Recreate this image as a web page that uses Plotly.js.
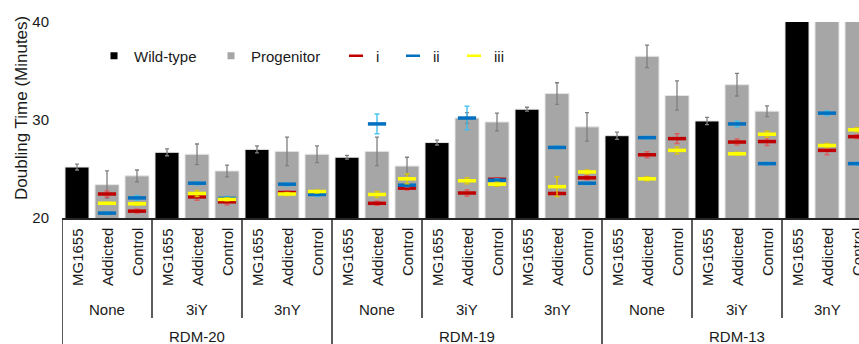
<!DOCTYPE html>
<html>
<head>
<meta charset="utf-8">
<script src="https://cdn.plot.ly/plotly-3.0.1.min.js"></script>
<style>
  html, body { margin: 0; padding: 0; background: #ffffff; }
  #chart { width: 859px; height: 344px; }
</style>
</head>
<body>
<div id="chart"></div>
<script>
// ---- Data (category order: RDM group > treatment > strain) ----
const rdmGroups = ['RDM-20', 'RDM-19', 'RDM-13'];
const treatments = ['None', '3iY', '3nY'];
const strains = ['MG1655', 'Addicted', 'Control'];

// Wild-type bars (MG1655 columns only)
const wildType = [25.2, null, null, 26.7, null, null, 27.0, null, null,
                  26.2, null, null, 27.7, null, null, 31.1, null, null,
                  28.4, null, null, 29.9, null, null, 42.0, null, null];
const wildTypeErr = [0.3, null, null, 0.35, null, null, 0.35, null, null,
                     0.2, null, null, 0.25, null, null, 0.2, null, null,
                     0.37, null, null, 0.37, null, null, null, null, null];

// Progenitor bars (Addicted / Control columns)
const progenitor = [null, 23.4, 24.3, null, 26.5, 24.8, null, 26.8, 26.5,
                    null, 26.8, 25.3, null, 30.2, 29.8, null, 32.7, 29.3,
                    null, 36.5, 32.5, null, 33.6, 30.9, null, 42.0, 42.0];
const progenitorErr = [null, 1.4, 0.6, null, 1.05, 0.6, null, 1.45, 0.85,
                       null, 1.45, 0.9, null, 0.55, 0.9, null, 1.1, 1.45,
                       null, 1.15, 1.5, null, 1.15, 0.55, null, null, null];

// Isolate series i, ii, iii
const seriesI = [null, 22.45, 20.7, null, 22.15, 21.65, null, 22.6, null,
                 null, 21.5, 23.05, null, 22.55, 23.95, null, 22.5, 24.1,
                 null, 26.45, 28.1, null, 27.75, 27.8, null, 26.9, 28.3];
const seriesIErr = [null, 0.3, 0.2, null, 0.35, 0.3, null, 0.15, null,
                    null, 0.2, 0.2, null, 0.3, 0.15, null, 0.15, 0.2,
                    null, 0.3, 0.5, null, 0.3, 0.4, null, 0.45, 0.2];
const seriesII = [null, 20.5, 22.05, null, 23.55, 22.0, null, 23.45, 22.4,
                  null, 29.6, 23.35, null, 30.2, 23.85, null, 27.2, 23.55,
                  null, 28.2, null, null, 29.6, 25.55, null, 30.7, 25.55];
const seriesIIErr = [null, 0.15, 0.25, null, 0.15, 0.2, null, 0.15, 0.2,
                     null, 1.0, 0.15, null, 1.2, 0.15, null, 0.15, 0.15,
                     null, 0.15, null, null, 0.3, 0.15, null, 0.25, 0.15];
const seriesIII = [null, 21.5, 21.45, null, 22.5, 21.9, null, 22.45, 22.7,
                   null, 22.4, 24.0, null, 23.8, 23.45, null, 23.2, 24.7,
                   null, 24.0, 26.9, null, 26.55, 28.55, null, 27.4, 29.0];
const seriesIIIErr = [null, 0.1, 0.15, null, 0.3, 0.15, null, 0.15, 0.15,
                      null, 0.3, 0.5, null, 0.3, 0.2, null, 1.0, 0.2,
                      null, 0.2, 0.35, null, 0.15, 0.3, null, 0.2, 0.2];

const yTicks = [20, 30, 40];
const yTitle = 'Doubling Time (Minutes)';
const legendNames = ['Wild-type', 'Progenitor', 'i', 'ii', 'iii'];

// ---- Build category positions ----
const xPos = [];
const strainLabel = [];
rdmGroups.forEach((r, ri) => treatments.forEach((t, ti) => strains.forEach((s, si) => {
  xPos.push(ri * 9 + ti * 3 + si);
  strainLabel.push(s);
})));

const FONT = 'Liberation Sans, Arial, sans-serif';
const TXT = '#1a1a1a';

const barLine = { color: '#e6e6e6', width: 1 };
const traces = [
  {
    type: 'bar', x: xPos, y: wildType, name: legendNames[0], showlegend: false,
    marker: { color: '#000000', line: barLine },
    error_y: { type: 'data', array: wildTypeErr, color: '#7f7f7f', thickness: 1.3, width: 2 }
  },
  {
    type: 'bar', x: xPos, y: progenitor, name: legendNames[1], showlegend: false,
    marker: { color: '#a6a6a6', line: barLine },
    error_y: { type: 'data', array: progenitorErr, color: '#7f7f7f', thickness: 1.3, width: 2 }
  }
];

const dashSeries = [
  { y: seriesI, err: seriesIErr, color: '#c00000', ecolor: 'rgba(230,80,80,0.85)' },
  { y: seriesII, err: seriesIIErr, color: '#0070c0', ecolor: 'rgba(60,190,240,0.9)' },
  { y: seriesIII, err: seriesIIIErr, color: '#ffff00', ecolor: 'rgba(225,200,0,0.9)' }
];
dashSeries.forEach((d, k) => {
  traces.push({
    type: 'scatter', mode: 'markers', x: xPos, y: d.y, name: legendNames[k + 2], showlegend: false,
    marker: { symbol: 'line-ew', size: 13, color: d.color, line: { color: d.color, width: 3.5 } },
    error_y: { type: 'data', array: d.err, color: d.ecolor, thickness: 1.5, width: 2.5 },
    cliponaxis: true
  });
});

// Legend-only entries (one legend each so spacing can match)
const legendSwatches = [
  { symbol: 'square', size: 7, color: '#000000', lw: 0 },
  { symbol: 'square', size: 7, color: '#a6a6a6', lw: 0 },
  { symbol: 'line-ew', size: 10, color: '#c00000', lw: 2.5 },
  { symbol: 'line-ew', size: 10, color: '#0070c0', lw: 2.5 },
  { symbol: 'line-ew', size: 10, color: '#ffff00', lw: 2.5 }
];
const legendIds = ['legend', 'legend2', 'legend3', 'legend4', 'legend5'];
const legendX = [94, 211, 336, 393, 454];
legendSwatches.forEach((s, k) => {
  traces.push({
    type: 'scatter', mode: 'markers', x: [null], y: [null], name: legendNames[k],
    legend: legendIds[k], showlegend: true,
    marker: { symbol: s.symbol, size: s.size, color: s.color, line: { color: s.color, width: s.lw } }
  });
});

// ---- Axis labels (3-level category axis) ----
const H = 344, T = 22, B = 126, L = 62, PW = 859 - L, PH = H - T - B;
const py = (pix) => (H - B - pix) / PH;  // pixel row -> paper y
const px = (pix) => (pix - L) / PW;      // pixel column -> paper x

const annotations = [];
xPos.forEach((x, i) => {
  annotations.push({
    x: x, xref: 'x', y: py(226), yref: 'paper', text: strainLabel[i], textangle: -90,
    showarrow: false, xanchor: 'center', yanchor: 'top', font: { family: FONT, size: 15, color: TXT }
  });
});
rdmGroups.forEach((r, ri) => treatments.forEach((t, ti) => {
  annotations.push({
    x: ri * 9 + ti * 3 + 1, xref: 'x', y: py(309.5), yref: 'paper', text: t,
    showarrow: false, xanchor: 'center', yanchor: 'middle', font: { family: FONT, size: 15, color: TXT }
  });
}));
rdmGroups.forEach((r, ri) => {
  annotations.push({
    x: ri * 9 + 4, xref: 'x', y: py(336.5), yref: 'paper', text: r,
    showarrow: false, xanchor: 'center', yanchor: 'middle', font: { family: FONT, size: 15, color: TXT }
  });
});
annotations.push({
  x: px(21.5), xref: 'paper', y: py(108.5), yref: 'paper', text: yTitle, textangle: -90,
  showarrow: false, xanchor: 'center', yanchor: 'middle', font: { family: FONT, size: 17, color: TXT }
});

const shapes = [];
for (let g = 0; g < rdmGroups.length * treatments.length; g++) {
  const isMajor = g % treatments.length === 0;
  shapes.push({
    type: 'line', xref: 'x', yref: 'paper', x0: g * 3 - 0.5, x1: g * 3 - 0.5,
    y0: 0, y1: isMajor ? py(H + 2) : py(318),
    line: { color: '#262626', width: 1.5 }
  });
}

const layout = {
  width: 859, height: 344,
  margin: { l: L, r: 0, t: T, b: B, pad: 0, autoexpand: false },
  paper_bgcolor: '#ffffff', plot_bgcolor: '#ffffff',
  barmode: 'overlay', bargap: 0.2,
  font: { family: FONT, size: 15, color: TXT },
  xaxis: {
    range: [-0.5, -0.5 + PW / 30],
    showticklabels: false, ticks: '', showgrid: false, zeroline: false,
    showline: true, linecolor: '#262626', linewidth: 2, fixedrange: true
  },
  yaxis: {
    range: [20, 40], tickvals: yTicks, ticktext: yTicks.map(String),
    showgrid: false, zeroline: false, showline: false, ticks: '',
    ticklabelstandoff: 12, tickfont: { family: FONT, size: 15, color: TXT }, fixedrange: true
  },
  annotations: annotations,
  shapes: shapes
};
legendIds.forEach((id, k) => {
  layout[id] = {
    orientation: 'h', xref: 'paper', yref: 'paper',
    x: px(legendX[k]), y: py(56), xanchor: 'left', yanchor: 'middle',
    bgcolor: 'rgba(0,0,0,0)', borderwidth: 0, font: { family: FONT, size: 15, color: TXT },
    itemclick: false, itemdoubleclick: false
  };
});

Plotly.newPlot('chart', traces, layout, { staticPlot: true, displayModeBar: false });
</script>
</body>
</html>
